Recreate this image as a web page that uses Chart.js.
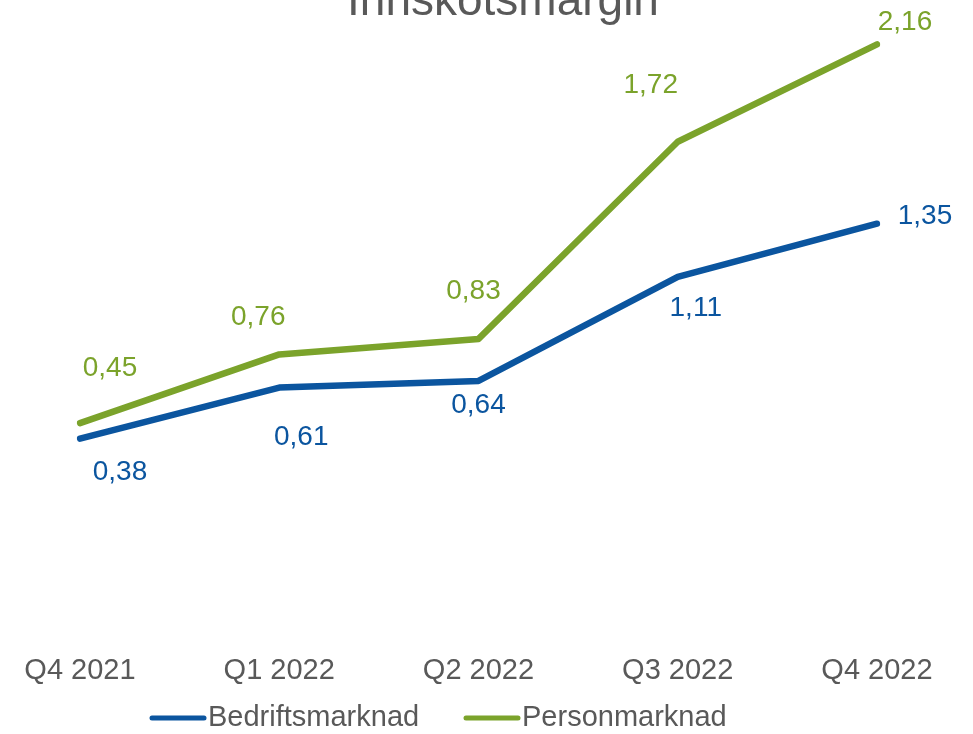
<!DOCTYPE html>
<html lang="no">
<head>
<meta charset="UTF-8">
<title>Innskotsmargin</title>
<script src="https://cdn.jsdelivr.net/npm/chart.js@4.4.0/dist/chart.umd.min.js"></script>
<style>
    body { margin: 0; background: #fff; }
    .wrap { width: 973px; height: 734px; }
</style>
</head>
<body>
<div class="wrap"><canvas id="myChart" width="973" height="734"></canvas></div>
<script>
// data
const quarters = ['Q4 2021', 'Q1 2022', 'Q2 2022', 'Q3 2022', 'Q4 2022']
const bedrift = [0.38, 0.61, 0.64, 1.11, 1.35]
const person = [0.45, 0.76, 0.83, 1.72, 2.16]

const BLUE = '#0b559f'
const GREEN = '#7ba32b'
const GREY = '#595959'
const FONT = '"Liberation Sans", Arial, sans-serif'

// hand placed label offsets (like in the original)
const bedriftOffsets = [[40, 34], [22, 50], [0, 24], [18, 31], [48, -7]]
const personOffsets = [[30, -55], [-21, -37], [-5, -48], [-27, -56], [28, -22]]

const fmt = (v) => v.toFixed(2).replace('.', ',')

const extras = {
    id: 'extras',
    afterDatasetsDraw(chart) {
        const ctx = chart.ctx
        const offsets = [bedriftOffsets, personOffsets]
        ctx.save()
        ctx.font = '28px ' + FONT
        ctx.textAlign = 'center'
        ctx.textBaseline = 'middle'
        chart.data.datasets.forEach((ds, i) => {
            const meta = chart.getDatasetMeta(i)
            ctx.fillStyle = ds.borderColor
            meta.data.forEach((pt, j) => {
                const o = offsets[i][j]
                ctx.fillText(fmt(ds.data[j]), pt.x + o[0], pt.y + o[1])
            })
        })

        // title, cut off at the top like the picture
        ctx.fillStyle = GREY
        ctx.font = '46px ' + FONT
        ctx.textBaseline = 'alphabetic'
        ctx.fillText('Innskotsmargin', 503, 15)

        // legend
        const items = [[152, 'Bedriftsmarknad', BLUE], [466, 'Personmarknad', GREEN]]
        ctx.font = '29px ' + FONT
        ctx.textAlign = 'left'
        ctx.textBaseline = 'middle'
        items.forEach(([x, text, color]) => {
            ctx.strokeStyle = color
            ctx.lineWidth = 5
            ctx.lineCap = 'round'
            ctx.beginPath()
            ctx.moveTo(x, 718)
            ctx.lineTo(x + 52, 718)
            ctx.stroke()
            ctx.fillStyle = GREY
            ctx.fillText(text, x + 56, 718)
        })
        ctx.restore()
    }
}

const chart = new Chart('myChart', {
    type: 'line',
    data: {
        labels: quarters,
        datasets: [{
            label: 'Bedriftsmarknad',
            data: bedrift,
            borderColor: BLUE,
            backgroundColor: BLUE,
            borderWidth: 6.5,
            pointRadius: 0,
            borderCapStyle: 'round',
            borderJoinStyle: 'round',
            fill: false
        }, {
            label: 'Personmarknad',
            data: person,
            borderColor: GREEN,
            backgroundColor: GREEN,
            borderWidth: 6.5,
            pointRadius: 0,
            borderCapStyle: 'round',
            borderJoinStyle: 'round',
            fill: false
        }]
    },
    options: {
        responsive: false,
        animation: false,
        layout: { padding: { left: 80, right: 96, top: 0, bottom: 44 } },
        plugins: {
            legend: { display: false },
            title: { display: false },
            tooltip: { enabled: false }
        },
        scales: {
            x: {
                offset: false,
                grid: { display: false, drawTicks: false },
                border: { display: false },
                ticks: {
                    color: GREY,
                    font: { family: FONT, size: 29 },
                    padding: 2,
                    maxRotation: 0,
                    autoSkip: false
                }
            },
            y: {
                display: false,
                min: -0.58,
                max: 2.36
            }
        }
    },
    plugins: [extras]
})
</script>
</body>
</html>
